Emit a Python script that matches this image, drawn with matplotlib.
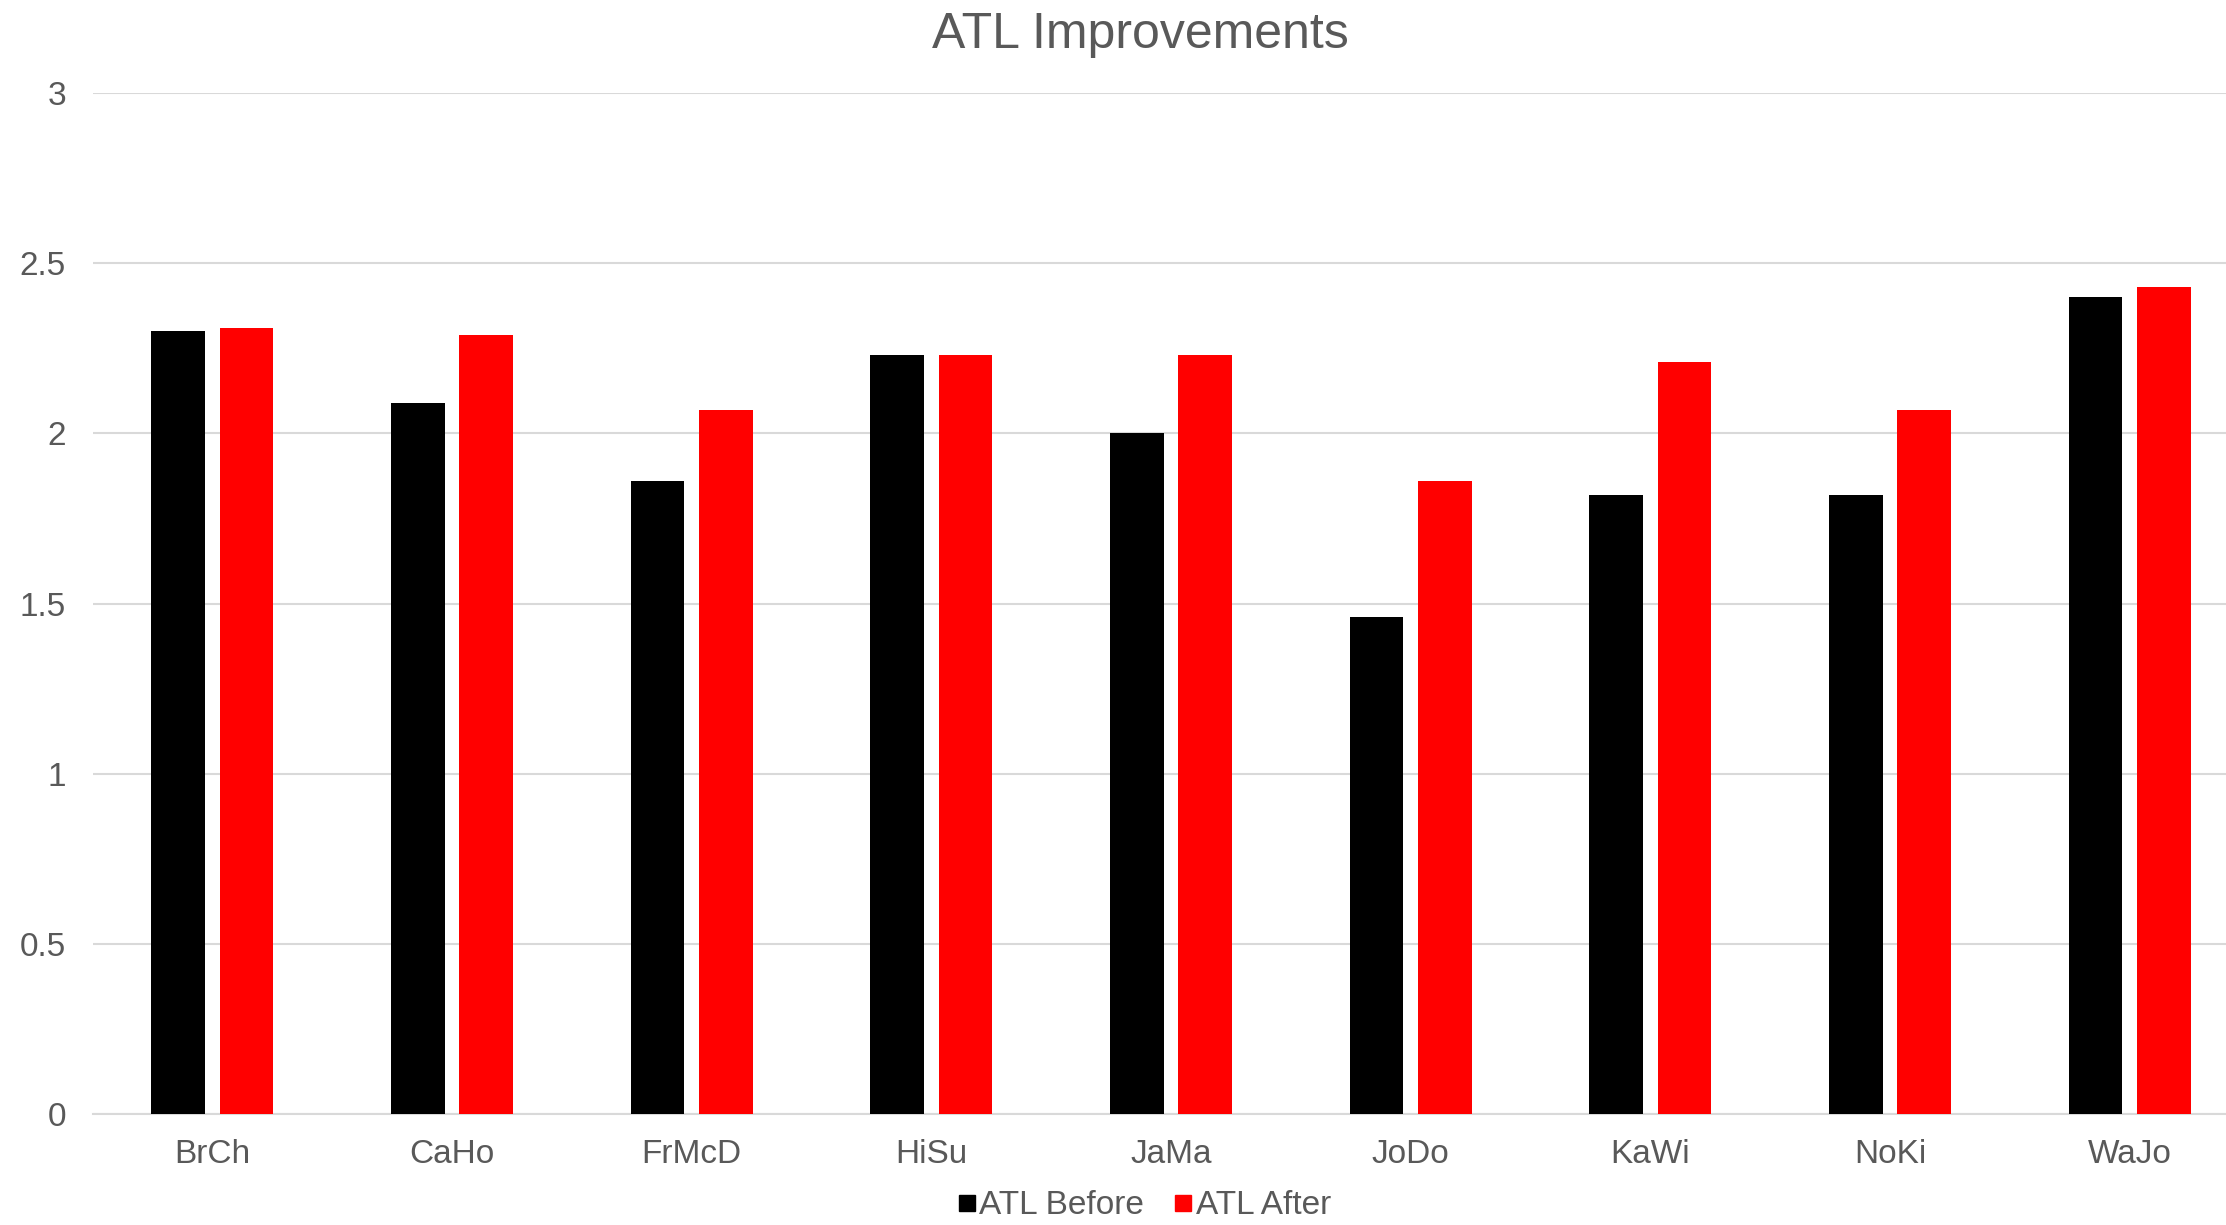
import matplotlib
matplotlib.use("Agg")
import matplotlib.pyplot as plt
from matplotlib.lines import Line2D
import numpy as np

plt.rcParams['font.family'] = ['Liberation Sans', 'DejaVu Sans']

categories = ["BrCh", "CaHo", "FrMcD", "HiSu", "JaMa", "JoDo", "KaWi", "NoKi", "WaJo"]
atl_before = [2.30, 2.09, 1.86, 2.23, 2.00, 1.46, 1.82, 1.82, 2.40]
atl_after = [2.31, 2.29, 2.07, 2.23, 2.23, 1.86, 2.21, 2.07, 2.43]
y_ticks = [0, 0.5, 1, 1.5, 2, 2.5, 3]
y_tick_labels = ["0", "0.5", "1", "1.5", "2", "2.5", "3"]
series_names = ["ATL Before", "ATL After"]
series_colors = ["#000000", "#FF0000"]

W, H = 2226, 1225
fig = plt.figure(figsize=(W / 100, H / 100), dpi=100)
ax = fig.add_axes([92.5 / W, 1 - 1114 / H, 2157 / W, (1114 - 93) / H])

x = np.arange(len(categories))
bw = 0.224
off = 0.142
ax.bar(x - off, atl_before, width=bw, color=series_colors[0], zorder=3)
ax.bar(x + off, atl_after, width=bw, color=series_colors[1], zorder=3)

ax.set_xlim(-0.5, len(categories) - 0.5)
ax.set_ylim(0, 3)
ax.set_yticks(y_ticks)
ax.set_yticklabels(y_tick_labels)
ax.set_xticks(x)
ax.set_xticklabels(categories)

txt = "#595959"
ax.tick_params(axis='y', length=0, pad=19, labelsize=24, labelcolor=txt)
ax.tick_params(axis='x', length=0, pad=18, labelsize=24, labelcolor=txt)
ax.yaxis.grid(True, color="#d9d9d9", linewidth=1.5, zorder=0)
ax.set_axisbelow(True)
for s in ["top", "left", "right"]:
    ax.spines[s].set_visible(False)
ax.spines["bottom"].set_color("#d9d9d9")
ax.spines["bottom"].set_linewidth(1.5)

fig.text(1140 / W, 1 - 48 / H, "ATL Improvements", ha="center", va="baseline",
         fontsize=36, color=txt)

handles = [Line2D([], [], linestyle="none", marker="s", markersize=11,
                  markerfacecolor=c, markeredgecolor=c) for c in series_colors]
leg = fig.legend(handles, series_names, loc="center", ncol=2,
                 bbox_to_anchor=(1145 / W, 1 - 1206 / H), frameon=False,
                 fontsize=24, handlelength=0.45, handletextpad=0.15,
                 columnspacing=0.95, borderpad=0)
for t in leg.get_texts():
    t.set_color(txt)

fig.savefig("out.png", dpi=100, facecolor="white")
